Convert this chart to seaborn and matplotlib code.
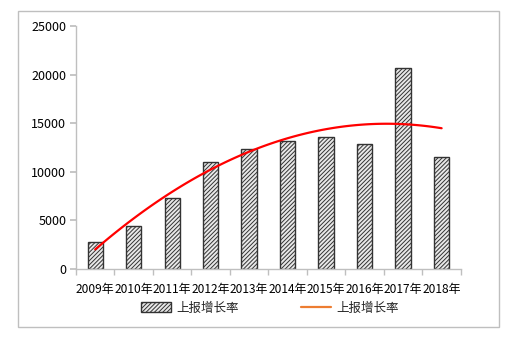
import numpy as np
import pandas as pd
import matplotlib
matplotlib.use("Agg")
import matplotlib.pyplot as plt
import seaborn as sns
from matplotlib.patches import Patch, Rectangle
from matplotlib.lines import Line2D

years = ["2009年", "2010年", "2011年", "2012年", "2013年",
         "2014年", "2015年", "2016年", "2017年", "2018年"]
reports = [2800, 4400, 7300, 11000, 12350, 13150, 13550, 12830, 20650, 11550]
legend_labels = ["上报增长率", "上报增长率"]

sns.set_theme(style="white")
plt.rcParams["font.family"] = ["Noto Sans CJK SC", "DejaVu Sans"]
plt.rcParams["hatch.linewidth"] = 0.7
plt.rcParams["hatch.color"] = "#3a3a3a"

df = pd.DataFrame({"year": years, "count": reports, "pos": np.arange(len(years))})

fig = plt.figure(figsize=(5.19, 3.38), dpi=100)
ax = fig.add_axes([0.1464, 0.2041, 0.888 - 0.1464, 0.923 - 0.2041])

sns.barplot(data=df, x="year", y="count", ax=ax, color="white",
            edgecolor="#333333", linewidth=1.0, width=0.4,
            hatch="////////", errorbar=None)
for p in ax.patches:
    p.set_facecolor("#e8e8e8")

# second-order polynomial trend of the yearly counts
sns.regplot(data=df, x="pos", y="count", order=2, ci=None, scatter=False,
            ax=ax, line_kws=dict(color="#ff0000", lw=1.6))

ax.set_xlim(-0.5, len(years) - 0.5)
ax.set_ylim(0, 25000)
ax.set_yticks(range(0, 25001, 5000))
ax.set_xticks(np.arange(len(years)))
ax.set_xticklabels(years)
ax.set_xticks(np.arange(-0.5, len(years)), minor=True)
ax.set_xlabel("")
ax.set_ylabel("")

for s in ["top", "right"]:
    ax.spines[s].set_visible(False)
for s in ["left", "bottom"]:
    ax.spines[s].set_color("#bfbfbf")
    ax.spines[s].set_linewidth(1.0)

ax.tick_params(axis="y", which="major", left=True, length=4, color="#bfbfbf",
               labelsize=9, labelcolor="#000000", pad=3)
ax.tick_params(axis="x", which="major", bottom=False, labelsize=8.6,
               labelcolor="#000000", pad=4)
ax.tick_params(axis="x", which="minor", bottom=True, length=4, color="#bfbfbf")

handles = [
    Patch(facecolor="#e8e8e8", edgecolor="#333333", hatch="////////", linewidth=1.0),
    Line2D([0], [0], color="#ed7d31", lw=1.6),
]
fig.legend(handles, legend_labels, loc="center", ncol=2,
           bbox_to_anchor=(0.52, 1 - 308 / 338), frameon=False,
           fontsize=9, handlelength=2.4, handleheight=0.8, columnspacing=5.0,
           handletextpad=0.4)

fig.patches.append(Rectangle((18 / 519, 1 - 327 / 338), (499 - 18) / 519,
                             (327 - 11) / 338, transform=fig.transFigure,
                             fill=False, edgecolor="#bfbfbf", linewidth=1.0))

fig.savefig("out.png", dpi=100, facecolor="white")
